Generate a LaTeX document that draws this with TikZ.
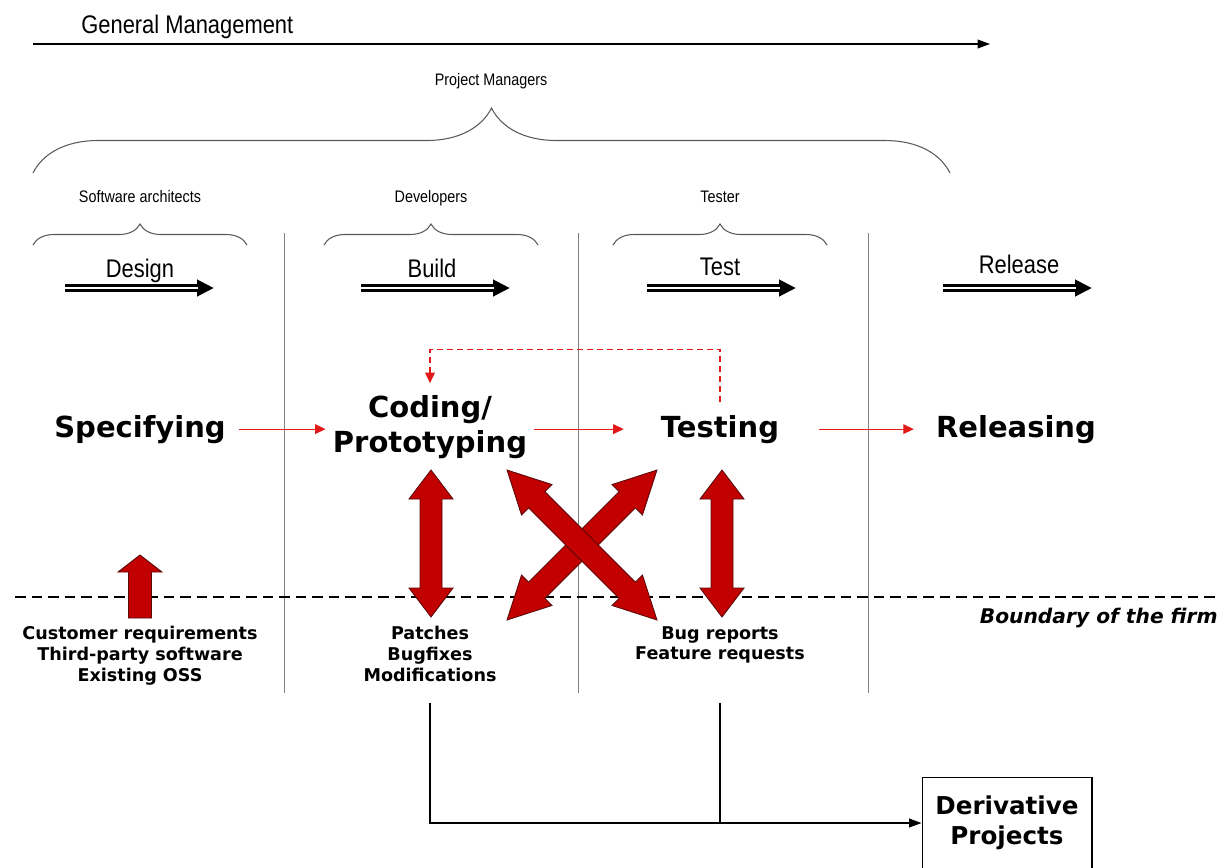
\documentclass[tikz,border=0pt]{standalone}
\usepackage{fontspec}
\newfontfamily\narrowsans[FakeStretch=0.86]{Liberation Sans}
\newfontfamily\heavysans{DejaVu Sans}
\usetikzlibrary{positioning,arrows.meta,calc,decorations.pathreplacing}

\definecolor{flowred}{RGB}{225,25,25}
\definecolor{blockred}{RGB}{195,0,0}
\definecolor{blockedge}{RGB}{90,10,10}

\tikzset{
  pics/dblarrow/.style args={#1/#2/#3/#4}{code={
    \draw[bigarr] (-#1,0) -- (-#1+#2,#3) -- (-#1+#2,#4) -- (#1-#2,#4) -- (#1-#2,#3)
      -- (#1,0) -- (#1-#2,-#3) -- (#1-#2,-#4) -- (-#1+#2,-#4) -- (-#1+#2,-#3) -- cycle;
  }}
}

\begin{document}
\begin{tikzpicture}[
  x=0.02cm, y=-0.02cm,
  heading/.style={font=\narrowsans\fontsize{14.5}{17}\selectfont, inner sep=0pt, anchor=base},
  role/.style={font=\narrowsans\fontsize{9.5}{11}\selectfont, inner sep=0pt, anchor=base},
  stage/.style={font=\heavysans\bfseries\fontsize{16.5}{19.8}\selectfont, align=center, inner sep=0pt},
  src/.style={font=\heavysans\bfseries\fontsize{10}{11.8}\selectfont, align=center, inner sep=0pt, anchor=north},
  divider/.style={draw=gray, line width=0.5pt},
  brc/.style={decorate, draw=black!65, line width=0.6pt},
  phasearr/.style={line width=4pt, -{Triangle[length=9.6pt,width=9pt]},
    postaction={draw=white, line width=0.9pt, arrows=-, shorten >=9pt}},
  flowarr/.style={draw=flowred, line width=0.7pt, -{Triangle[length=6pt,width=5.5pt]}},
  bigarr/.style={fill=blockred, draw=blockedge, line width=0.5pt},
  boundary/.style={line width=0.8pt, dash pattern=on 6pt off 3.4pt},
  plain/.style={line width=0.6pt, -{Triangle[length=7pt,width=5pt]}}
]
\useasboundingbox (0,0) rectangle (1230,867);

% management
\node[heading, anchor=base west] (gm) at (81,33) {General Management};
\coordinate (gm0) at (33,44);
\coordinate (gm1) at (990,44);
\draw[plain] (gm0) -- (gm1);

% roles and braces
\node[role] (pm) at (491,85) {Project Managers};
\draw[brc, decoration={brace, amplitude=1.3cm}] (33,173) -- (950,173);
\foreach \cx/\who/\nm in {140/Software architects/arch, 431/Developers/dev, 720/Tester/tst} {
  \node[role] (\nm) at (\cx,202) {\who};
  \draw[brc, decoration={brace, amplitude=0.42cm}] (\cx-107,245) -- (\cx+107,245);
}

% phases
\node[heading] (design) at (140,277) {Design};
\node[heading] (build) at (432,277) {Build};
\node[heading] (test) at (720,275) {Test};
\node[heading] (release) at (1019,273) {Release};
\foreach \nm/\dx/\dy in {design/-75/11, build/-71/11, test/-73/13, release/-76/15}
  \draw[phasearr] ($(\nm.base)+(\dx,\dy)$) -- ++(149,0);

% dividers
\foreach \x in {284,578,868}
  \draw[divider] (\x,233) -- (\x,693);

% stages
\node[stage, anchor=base] (spec) at (140,437) {Specifying};
\node[stage] (coding) at (430,427) {Coding/\\Prototyping};
\node[stage, anchor=base] (testing) at (720,437) {Testing};
\node[stage, anchor=base] (releasing) at (1016,437) {Releasing};

\draw[flowarr, shorten <=7.4pt, shorten >=4pt] (spec.east) -- (spec.east -| coding.west);
\draw[flowarr, shorten <=4pt, shorten >=21pt] (coding.east |- testing.east) -- (testing.west);
\draw[flowarr, shorten <=22.7pt, shorten >=12.5pt] (testing.east) -- (testing.east -| releasing.west);
\draw[flowarr, dash pattern=on 3.4pt off 2.3pt] ([yshift=7pt]testing.north) -- ++(0,-53) -| ([yshift=6.8pt]coding.north);

% boundary of the firm
\coordinate (bd0) at (15,597);
\coordinate (bd1) at (1220,597);
\draw[boundary] (bd0) -- (bd1);
\node[font=\heavysans\bfseries\itshape\fontsize{11.5}{13}\selectfont, anchor=base east, inner sep=0pt] (firm) at (1218,623) {Boundary of the firm};

% exchange arrows
\pic[rotate=90] at (431,543.5) {dblarrow=73.5/29/22/11};
\pic[rotate=90] at (722,543.5) {dblarrow=73.5/29/22/11};
\pic[rotate=45] at (582,545) {dblarrow=106/42/21.5/11.5};
\pic[rotate=-45] at (582,545) {dblarrow=106/42/21.5/11.5};
\draw[bigarr] (140,555) -- (162,572) -- (151.5,572) -- (151.5,618) -- (128.5,618) -- (128.5,572) -- (118,572) -- cycle;

% sources
\node[src] (cust) at (140,626) {Customer requirements\\Third-party software\\Existing OSS};
\node[src] (patches) at (430,626) {Patches\\Bugfixes\\Modifications};
\node[src] (bugs) at (720,626) {Bug reports\\Feature requests};

% derivative projects
\node[draw, line width=0.6pt, font=\heavysans\bfseries\fontsize{14}{17}\selectfont, align=center,
  minimum width=3.4cm, minimum height=1.84cm] (deriv) at (1007,823) {Derivative\\Projects};
\coordinate (tap) at ([yshift=-12pt]patches.south);
\draw[plain] (tap) |- (deriv.west);
\draw[line width=0.6pt] (bugs.south |- tap) -- (bugs.south |- deriv.west);

\end{tikzpicture}
\end{document}
